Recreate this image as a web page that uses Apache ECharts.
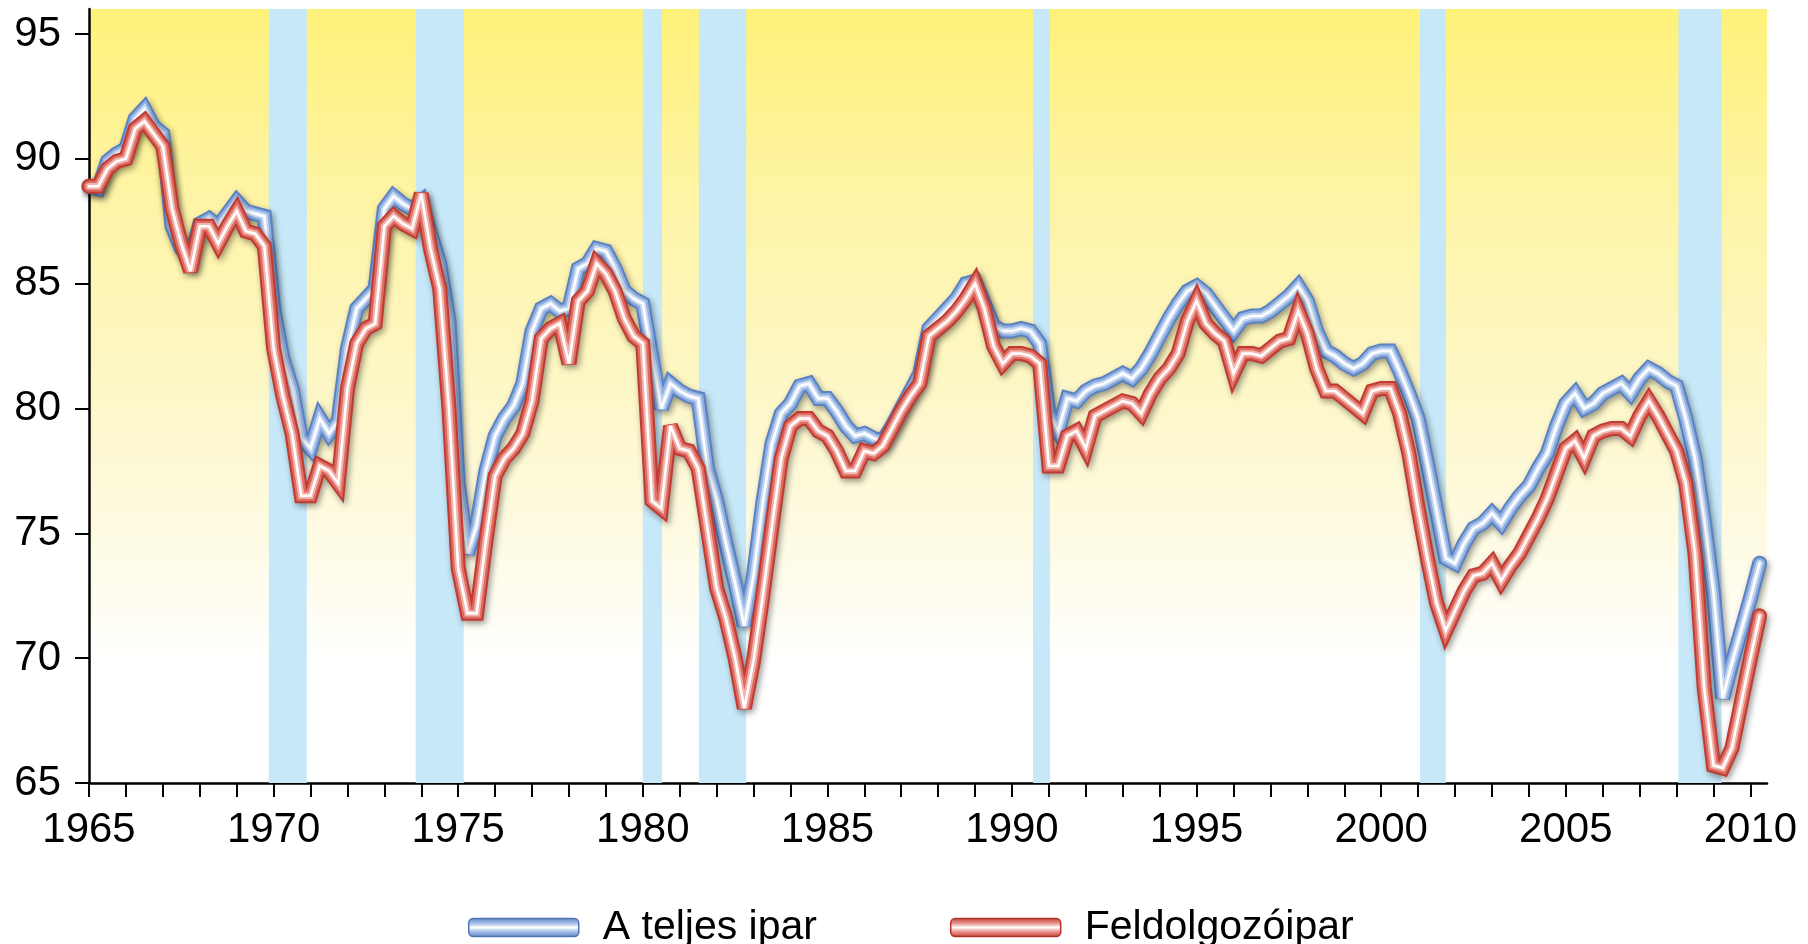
<!DOCTYPE html>
<html>
<head>
<meta charset="utf-8">
<script src="https://cdn.jsdelivr.net/npm/echarts@6/dist/echarts.min.js"></script>
<style>
html,body{margin:0;padding:0;background:#fff;}
#chart{width:1808px;height:944px;}
</style>
</head>
<body>
<div id="chart"></div>
<script>
// Quarterly series, first point = 1965 Q1
const startYear = 1965;
const pointsPerYear = 4;

const totalIndustry = [
  88.9, 88.8, 89.9, 90.2,   // 1965
  90.4, 91.6, 92.0, 91.3,   // 1966
  91.0, 87.3, 86.4, 86.0,   // 1967
  87.4, 87.6, 87.3, 87.8,   // 1968
  88.3, 87.9, 87.8, 87.7,   // 1969
  84.0, 82.0, 80.8, 78.8,   // 1970
  78.4, 79.6, 79.0, 79.5,   // 1971
  82.4, 84.0, 84.4, 84.8,   // 1972
  88.0, 88.5, 88.2, 88.0,   // 1973
  88.3, 87.0, 85.8, 83.5,   // 1974
  77.0, 74.2, 75.3, 77.5,   // 1975
  78.9, 79.6, 80.1, 81.0,   // 1976
  83.1, 84.0, 84.2, 83.9,   // 1977
  84.0, 85.6, 85.8, 86.4,   // 1978
  86.3, 85.6, 84.7, 84.4,   // 1979
  84.2, 82.0, 80.0, 81.0,   // 1980
  80.7, 80.5, 80.4, 77.6,   // 1981
  76.3, 74.6, 73.0, 71.3,   // 1982
  73.3, 76.2, 78.6, 79.8,   // 1983
  80.2, 80.9, 81.0, 80.4,   // 1984
  80.4, 79.9, 79.3, 78.9,   // 1985
  79.0, 78.8, 78.7, 79.3,   // 1986
  80.0, 80.7, 81.4, 83.2,   // 1987
  83.6, 84.0, 84.4, 85.0,   // 1988
  85.1, 84.2, 83.3, 83.1,   // 1989
  83.1, 83.2, 83.1, 82.6,   // 1990
  79.8, 79.1, 80.4, 80.3,   // 1991
  80.7, 80.9, 81.0, 81.2,   // 1992
  81.4, 81.2, 81.6, 82.2,   // 1993
  82.9, 83.6, 84.2, 84.7,   // 1994
  84.9, 84.6, 84.1, 83.6,   // 1995
  83.1, 83.6, 83.7, 83.7,   // 1996
  83.9, 84.2, 84.5, 84.9,   // 1997
  84.3, 83.1, 82.3, 82.1,   // 1998
  81.8, 81.6, 81.8, 82.2,   // 1999
  82.3, 82.3, 81.5, 80.6,   // 2000
  79.6, 77.8, 75.9, 74.0,   // 2001
  73.8, 74.6, 75.2, 75.4,   // 2002
  75.8, 75.4, 76.0, 76.5,   // 2003
  76.9, 77.6, 78.2, 79.3,   // 2004
  80.2, 80.6, 80.0, 80.2,   // 2005
  80.6, 80.8, 81.0, 80.6,   // 2006
  81.2, 81.6, 81.4, 81.1,   // 2007
  80.9, 79.6, 78.0, 75.5,   // 2008
  72.6, 68.4, 69.8, 71.1,   // 2009
  72.4, 73.8                // 2010
];

const manufacturing = [
  88.9, 88.9, 89.6, 89.9,   // 1965
  90.0, 91.2, 91.5, 91.0,   // 1966
  90.5, 88.0, 86.6, 85.5,   // 1967
  87.3, 87.3, 86.6, 87.3,   // 1968
  87.9, 87.1, 87.0, 86.5,   // 1969
  82.4, 80.5, 79.0, 76.5,   // 1970
  76.5, 77.7, 77.5, 77.0,   // 1971
  80.8, 82.6, 83.2, 83.4,   // 1972
  87.3, 87.7, 87.4, 87.2,   // 1973
  88.6, 86.4, 84.8, 80.0,   // 1974
  73.6, 71.8, 71.8, 74.7,   // 1975
  77.3, 78.0, 78.4, 79.0,   // 1976
  80.3, 82.8, 83.2, 83.4,   // 1977
  81.8, 84.3, 84.7, 85.8,   // 1978
  85.4, 84.7, 83.6, 82.9,   // 1979
  82.6, 76.3, 76.0, 79.3,   // 1980
  78.4, 78.3, 77.6, 75.2,   // 1981
  72.8, 71.6, 70.0, 68.0,   // 1982
  69.9, 72.5, 75.3, 78.0,   // 1983
  79.3, 79.6, 79.6, 79.1,   // 1984
  78.9, 78.3, 77.5, 77.5,   // 1985
  78.3, 78.2, 78.5, 79.2,   // 1986
  79.9, 80.5, 81.0, 82.9,   // 1987
  83.2, 83.5, 83.9, 84.4,   // 1988
  85.0, 84.0, 82.5, 81.8,   // 1989
  82.2, 82.2, 82.1, 81.8,   // 1990
  77.7, 77.7, 78.9, 79.1,   // 1991
  78.4, 79.7, 79.9, 80.1,   // 1992
  80.3, 80.2, 79.8, 80.6,   // 1993
  81.2, 81.6, 82.2, 83.5,   // 1994
  84.3, 83.4, 83.0, 82.7,   // 1995
  81.4, 82.2, 82.2, 82.1,   // 1996
  82.4, 82.7, 82.8, 83.9,   // 1997
  83.0, 81.6, 80.7, 80.7,   // 1998
  80.4, 80.1, 79.8, 80.7,   // 1999
  80.8, 80.8, 79.8, 78.2,   // 2000
  76.0, 74.0, 72.2, 71.1,   // 2001
  71.9, 72.7, 73.3, 73.4,   // 2002
  73.8, 73.1, 73.7, 74.2,   // 2003
  74.9, 75.6, 76.4, 77.4,   // 2004
  78.4, 78.7, 78.0, 78.9,   // 2005
  79.1, 79.2, 79.2, 78.9,   // 2006
  79.7, 80.3, 79.7, 79.0,   // 2007
  78.3, 77.0, 74.2, 68.8,   // 2008
  65.7, 65.6, 66.4, 68.2,   // 2009
  70.0, 71.7                // 2010
];

// Recession periods (shaded), in fractional years
const recessions = [
  [1969.87, 1970.90],
  [1973.85, 1975.15],
  [1980.00, 1980.52],
  [1981.52, 1982.80],
  [1990.57, 1991.03],
  [2001.05, 2001.75],
  [2008.05, 2009.22]
];

const yTickValues = [65, 70, 75, 80, 85, 90, 95];
const xLabelYears = [1965, 1970, 1975, 1980, 1985, 1990, 1995, 2000, 2005, 2010];
const xTickYears = [];
for (let y = 1965; y <= 2010; y++) xTickYears.push(y);

const seriesNames = ['A teljes ipar', 'Feldolgozóipar'];

function toPairs(values) {
  return values.map((v, i) => [startYear + i / pointsPerYear, v]);
}

const FONT = '"Liberation Sans", Arial, Helvetica, sans-serif';

function tubeLayers(name, values, colors, z) {
  const data = toPairs(values);
  const widths = [15, 11, 6.5, 2.5];
  return widths.map((w, k) => ({
    name: k === 0 ? name : name + '_' + k,
    type: 'line',
    data: data,
    z: z,
    z2: k,
    symbol: 'none',
    showSymbol: false,
    silent: true,
    animation: false,
    emphasis: { disabled: true },
    lineStyle: Object.assign({
      width: w,
      color: colors[k],
      join: 'miter',
      miterLimit: 3,
      cap: 'round'
    }, k === 0 ? {
      shadowColor: 'rgba(0,0,0,0.4)',
      shadowBlur: 6,
      shadowOffsetX: 2,
      shadowOffsetY: 3
    } : {})
  }));
}

const blueColors = ['#5a82c2', '#8eaee0', '#c8d9f3', '#ffffff'];
const redColors = ['#c13a31', '#dc6b61', '#f2b4ac', '#ffffff'];

function pillGradient(edge, mid) {
  return {
    type: 'linear', x: 0, y: 0, x2: 0, y2: 1,
    colorStops: [
      { offset: 0, color: edge },
      { offset: 0.3, color: mid },
      { offset: 0.5, color: '#ffffff' },
      { offset: 0.7, color: mid },
      { offset: 1, color: edge }
    ]
  };
}

const chart = echarts.init(document.getElementById('chart'), null, { renderer: 'canvas' });

const option = {
  backgroundColor: '#ffffff',
  animation: false,
  grid: {
    left: 89, right: 41, top: 9, bottom: 161,
    show: true,
    borderWidth: 0,
    backgroundColor: {
      type: 'linear', x: 0, y: 0, x2: 0, y2: 1,
      colorStops: [
        { offset: 0, color: '#fff27a' },
        { offset: 0.25, color: '#fef4a6' },
        { offset: 0.5, color: '#fdf7c8' },
        { offset: 0.7, color: '#fefbe6' },
        { offset: 0.85, color: '#ffffff' },
        { offset: 1, color: '#ffffff' }
      ]
    }
  },
  legend: {
    left: 463,
    top: 902,
    itemWidth: 110,
    itemHeight: 18,
    itemGap: 133,
    selectedMode: false,
    textStyle: { fontSize: 41, color: '#000', fontFamily: FONT, padding: [0, 0, 0, 19] },
    data: [
      { name: seriesNames[0], icon: 'roundRect',
        itemStyle: { color: pillGradient('#5a82c2', '#a9c2ea'), borderColor: '#4f76b4', borderWidth: 1.5 } },
      { name: seriesNames[1], icon: 'roundRect',
        itemStyle: { color: pillGradient('#c13a31', '#eb9a92'), borderColor: '#b0322a', borderWidth: 1.5 } }
    ]
  },
  xAxis: {
    type: 'value',
    min: 1965,
    max: 2010.45,
    interval: 5,
    axisLine: { show: true, onZero: false, lineStyle: { color: '#000', width: 2.5 } },
    axisTick: { show: true, length: 14, inside: false, lineStyle: { color: '#000', width: 2 }, customValues: xTickYears },
    axisLabel: { customValues: xLabelYears, formatter: v => String(v), fontSize: 42, color: '#000', fontFamily: FONT, margin: 26 },
    splitLine: { show: false }
  },
  yAxis: {
    type: 'value',
    min: 65,
    max: 96,
    interval: 5,
    axisLine: { show: true, onZero: false, lineStyle: { color: '#000', width: 2.5 } },
    axisTick: { show: true, length: 14, lineStyle: { color: '#000', width: 2 }, customValues: yTickValues },
    axisLabel: { customValues: yTickValues, formatter: v => String(v), fontSize: 42, color: '#000', fontFamily: FONT, margin: 28 },
    splitLine: { show: false }
  },
  series: [
    {
      name: 'recessions',
      type: 'line',
      data: [[1965, 65]],
      symbol: 'none',
      silent: true,
      z: 1,
      lineStyle: { width: 0, opacity: 0 },
      markArea: {
        silent: true,
        itemStyle: { color: '#c6e8f8', opacity: 1 },
        data: recessions.map(r => [{ xAxis: r[0] }, { xAxis: r[1] }])
      }
    }
  ]
  .concat(tubeLayers(seriesNames[0], totalIndustry, blueColors, 3))
  .concat(tubeLayers(seriesNames[1], manufacturing, redColors, 4))
};

chart.setOption(option);
</script>
</body>
</html>
